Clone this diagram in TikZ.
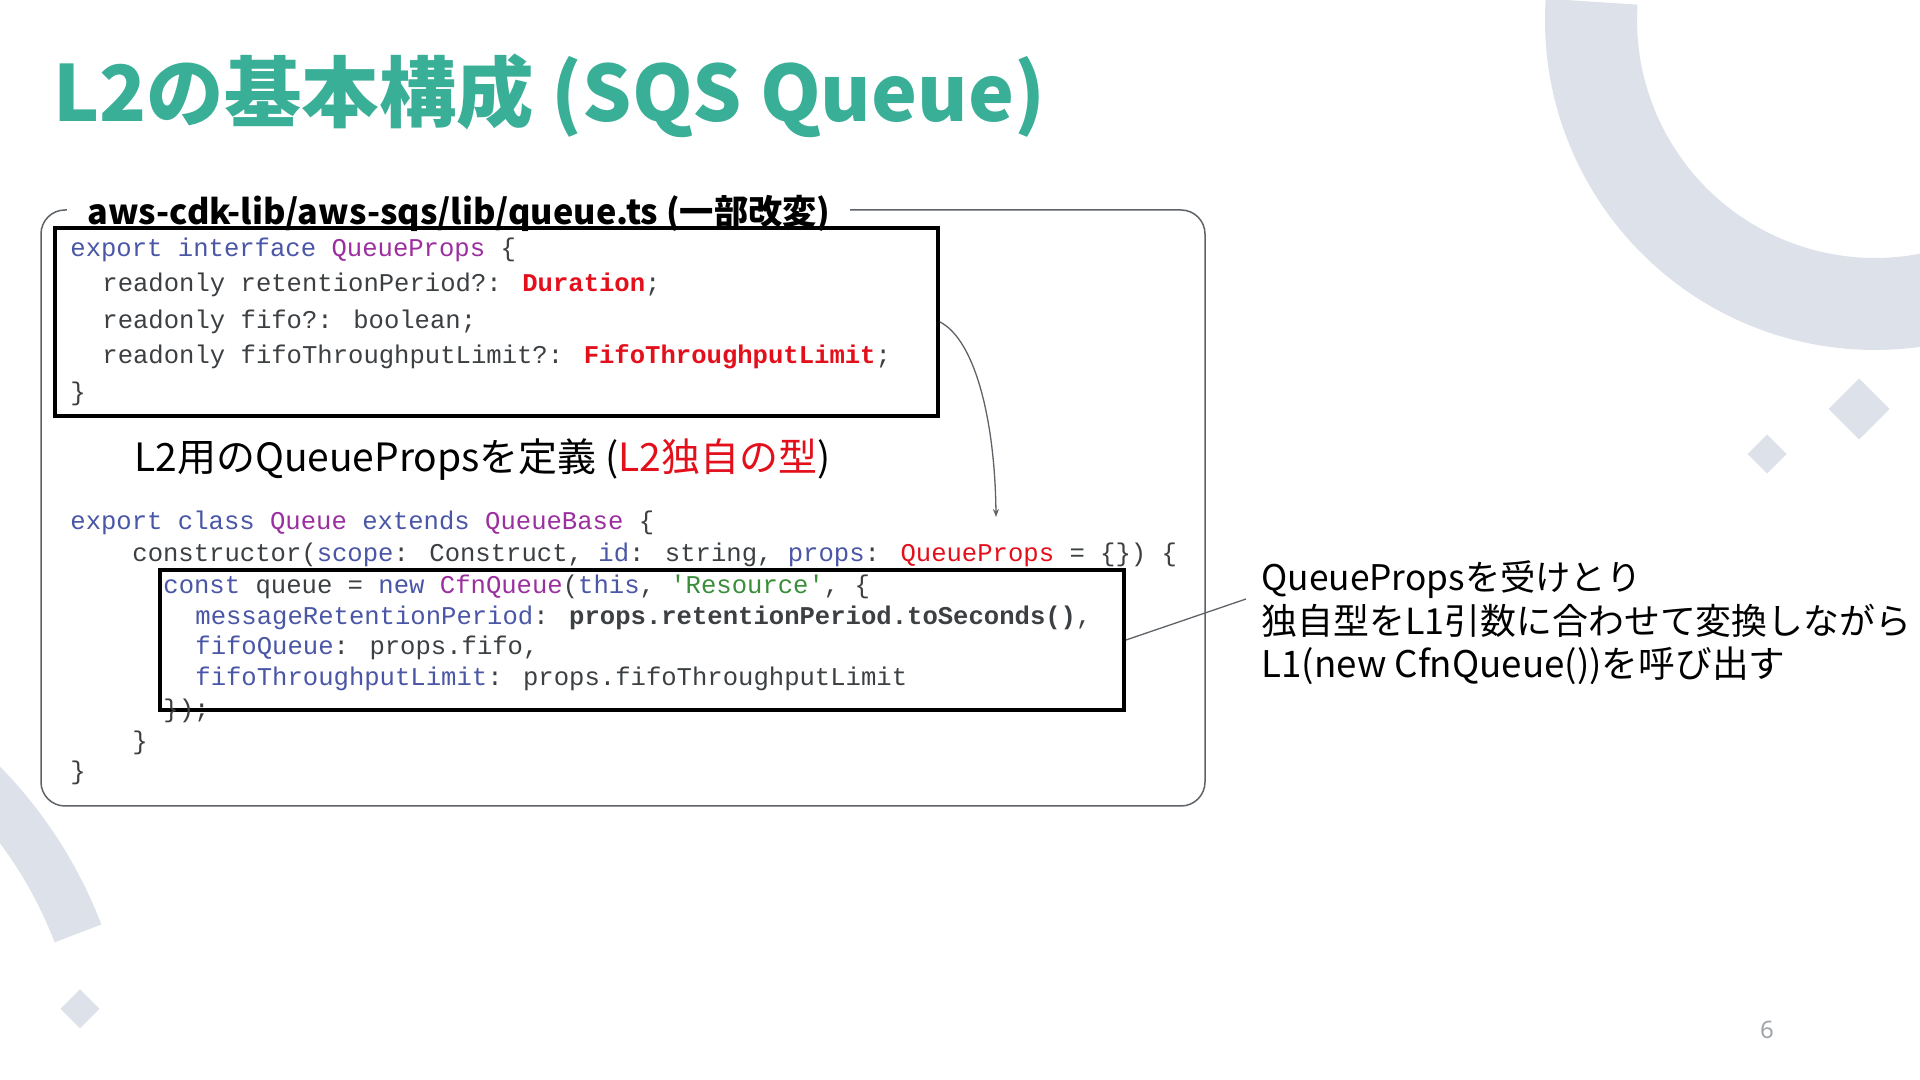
\documentclass[tikz,border=0pt]{standalone}
\usepackage{fontspec}
\usepackage{graphicx}
\setmainfont{Noto Sans CJK JP}
\newfontfamily\jp{Noto Sans CJK JP}
\newfontfamily\code[Ligatures=TeXOff]{Liberation Mono}
\newfontfamily\numfont{Noto Sans}
\usetikzlibrary{arrows.meta}
\definecolor{titlecol}{HTML}{3AAF98}
\definecolor{decocol}{HTML}{DDE2EA}
\definecolor{framecol}{HTML}{5F6368}
\definecolor{kwblue}{HTML}{4A56A6}
\definecolor{typpurple}{HTML}{9C2FA0}
\definecolor{codegray}{HTML}{3C4043}
\definecolor{codered}{HTML}{E3101C}
\definecolor{codegreen}{HTML}{3A8E3A}
\definecolor{pagenum}{HTML}{A0A4AA}
\newcommand{\kw}[1]{\textcolor{kwblue}{#1}}
\newcommand{\ty}[1]{\textcolor{typpurple}{#1}}
\newcommand{\rd}[1]{\textcolor{codered}{#1}}
\newcommand{\rdb}[1]{\textcolor{codered}{\bfseries #1}}
\newcommand{\gr}[1]{\textcolor{codegreen}{#1}}
\begin{document}
\begin{tikzpicture}[x=0.5pt,y=0.5pt,
  codeline/.style={anchor=base west, inner sep=0pt, text=codegray,
    font=\code\fontsize{12.8pt}{15pt}\selectfont},
  hlbox/.style={draw=black, line width=2pt, inner sep=0pt},
  annot/.style={anchor=base west, inner sep=0pt, text=black,
    font=\jp\fontsize{19pt}{22pt}\selectfont},
  connector/.style={draw=framecol, line width=0.65pt},
  deco/.style={fill=decocol, draw=none}]
\useasboundingbox (0,0) rectangle (1920,1080);
\fill[white] (0,0) rectangle (1920,1080);
% decorations
\begin{scope}
\clip (0,0) rectangle (1920,1080);
\fill[deco] ([shift={(176.3:330)}]1875,1060) arc[start angle=176.3, end angle=370, radius=330]
  -- ([shift={(370:238)}]1875,1060) arc[start angle=370, end angle=176.3, radius=238] -- cycle;
\fill[deco] ([shift={(21:462)}]-330,-10) arc[start angle=21, end angle=100, radius=462]
  -- ([shift={(100:412)}]-330,-10) arc[start angle=100, end angle=21, radius=412] -- cycle;
\fill[deco] (1859,640.5) -- (1889.5,671) -- (1859,701.5) -- (1828.5,671) -- cycle;
\fill[deco] (1767,606.5) -- (1786.5,626) -- (1767,645.5) -- (1747.5,626) -- cycle;
\fill[deco] (80,51.5) -- (99.5,71) -- (80,90.5) -- (60.5,71) -- cycle;
\end{scope}
% title
\node[anchor=base west, inner sep=0pt, text=titlecol,
  font=\jp\bfseries\fontsize{42pt}{48pt}\selectfont] (title) at (53,958)
  {\resizebox{496pt}{!}{L2の基本構成 (SQS Queue)}};
% outer frame
\node[draw=framecol, line width=0.75pt, rounded corners=12pt, inner sep=0pt,
  minimum width=582pt, minimum height=298pt] (frame) at (623,572) {};
\node[anchor=base west, fill=white, inner xsep=10pt, inner ysep=3pt, text=black,
  font=\jp\bfseries\fontsize{17pt}{20pt}\selectfont] (filetitle) at (67,855)
  {\resizebox{371.5pt}{!}{aws-cdk-lib/aws-sqs/lib/queue.ts (一部改変)}};
% highlight boxes
\node[hlbox, minimum width=441.5pt, minimum height=94pt] (box1) at (496.5,758) {};
\node[hlbox, minimum width=482pt, minimum height=70pt] (box2) at (642,440) {};
% code part 1
\node[codeline] (c1) at (70,823) {\kw{export interface} \ty{QueueProps} \{};
\node[codeline] (c2) at (102,788) {readonly retentionPeriod?: \rdb{Duration};};
\node[codeline] (c3) at (102,751) {readonly fifo?: boolean;};
\node[codeline] (c4) at (102,716) {readonly fifoThroughputLimit?: \rdb{FifoThroughputLimit};};
\node[codeline] (c5) at (70,679) {\}};
% subtitle
\node[anchor=base west, inner sep=0pt, text=black,
  font=\jp\fontsize{18pt}{22pt}\selectfont] (sub) at (134,608)
  {\resizebox{348pt}{!}{L2用のQueuePropsを定義 (\textcolor{codered}{L2独自の型})}};
% code part 2
\node[codeline] (d1) at (70,550) {\kw{export class} \ty{Queue} \kw{extends} \ty{QueueBase} \{};
\node[codeline] (d2) at (132,518) {constructor(\kw{scope}: Construct, \kw{id}: string, \kw{props}: \rd{QueueProps} = \{\}) \{};
\node[codeline] (d3) at (163,486) {\kw{const} queue = \kw{new} \ty{CfnQueue}(\kw{this}, \gr{'Resource'}, \{};
\node[codeline] (d4) at (195,455) {\kw{messageRetentionPeriod}: {\bfseries props.retentionPeriod.toSeconds()},};
\node[codeline] (d5) at (195,425) {\kw{fifoQueue}: props.fifo,};
\node[codeline] (d6) at (195,394) {\kw{fifoThroughputLimit}: props.fifoThroughputLimit};
\node[codeline] (d7) at (163,362) {\});};
\node[codeline] (d8) at (132,330) {\}};
\node[codeline] (d9) at (70,300) {\}};
% annotation
\node[annot] (a1) at (1261,489) {\resizebox{190pt}{!}{QueuePropsを受けとり}};
\node[annot] (a2) at (1261,445) {\resizebox{325pt}{!}{独自型をL1引数に合わせて変換しながら}};
\node[annot] (a3) at (1261,402) {\resizebox{262pt}{!}{L1(new CfnQueue())を呼び出す}};
% connectors
\coordinate (arrowend) at (996,563);
\coordinate (annotend) at (1246,481);
\draw[connector, -{Stealth[length=4pt, width=3pt]}] (box1.east)
  .. controls (975,740) and (995,660) .. (arrowend);
\draw[connector] (box2.east) -- (annotend);
% page number
\node[inner sep=0pt, text=pagenum, font=\numfont\fontsize{12pt}{14pt}\selectfont] (page) at (1767,50) {6};
\end{tikzpicture}
\end{document}
